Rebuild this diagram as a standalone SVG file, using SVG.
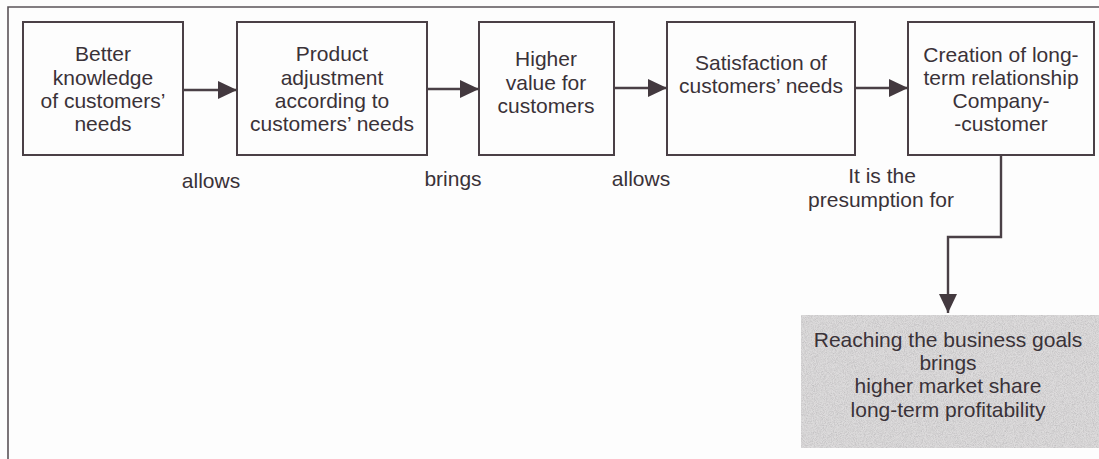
<svg xmlns="http://www.w3.org/2000/svg" width="1099" height="459" viewBox="0 0 1099 459">
  <style>
    .box { fill: none; stroke: #4a4046; stroke-width: 2; }
    .frame { fill: none; stroke: #5a5358; stroke-width: 1.6; }
    .link { fill: none; stroke: #4a4046; stroke-width: 2.4; }
    text { font-family: "Liberation Sans", Arial, sans-serif; font-size: 21px; fill: #3a3238; text-anchor: middle; }
  </style>
  <defs>
    <marker id="arrow" markerUnits="userSpaceOnUse" markerWidth="20" markerHeight="18" refX="19" refY="9" orient="auto">
      <path d="M0,0 L19,9 L0,18 Z" fill="#43393f"/>
    </marker>
    <!-- speckled halftone texture for the shaded result panel -->
    <filter id="grain" x="0" y="0" width="100%" height="100%">
      <feTurbulence type="fractalNoise" baseFrequency="1.1" numOctaves="2" seed="4" result="n"/>
      <feColorMatrix in="n" type="matrix" values="0 0 0 0 0.5  0 0 0 0 0.49  0 0 0 0 0.5  0 0 0 1.6 -0.55" result="g"/>
      <feComposite in="g" in2="SourceGraphic" operator="in" result="gc"/>
      <feMerge><feMergeNode in="SourceGraphic"/><feMergeNode in="gc"/></feMerge>
    </filter>
  </defs>

  <rect width="1099" height="459" fill="#fdfdfd"/>

  <!-- surrounding frame (open at right and bottom) -->
  <path class="frame" d="M8,459 V7 H1099"/>

  <g id="node-knowledge">
    <rect class="box" x="23" y="22" width="160" height="133"/>
    <text x="103" y="61">Better</text>
    <text x="103" y="85">knowledge</text>
    <text x="103" y="108">of customers’</text>
    <text x="103" y="131">needs</text>
  </g>

  <g id="node-adjustment">
    <rect class="box" x="237" y="22" width="190" height="133"/>
    <text x="332" y="61">Product</text>
    <text x="332" y="85">adjustment</text>
    <text x="332" y="108">according to</text>
    <text x="332" y="131">customers’ needs</text>
  </g>

  <g id="node-value">
    <rect class="box" x="479" y="22" width="135" height="133"/>
    <text x="546" y="66">Higher</text>
    <text x="546" y="90">value for</text>
    <text x="546" y="113">customers</text>
  </g>

  <g id="node-satisfaction">
    <rect class="box" x="667" y="22" width="188" height="133"/>
    <text x="761" y="70">Satisfaction of</text>
    <text x="761" y="93">customers’ needs</text>
  </g>

  <g id="node-relationship">
    <rect class="box" x="908" y="22" width="186" height="133"/>
    <text x="1001" y="62">Creation of long-</text>
    <text x="1001" y="85">term relationship</text>
    <text x="1001" y="108">Company-</text>
    <text x="1001" y="131">-customer</text>
  </g>

  <g id="node-goals">
    <rect x="801" y="315" width="298" height="133" fill="#dddbdc" filter="url(#grain)"/>
    <text x="948" y="347">Reaching the business goals</text>
    <text x="948" y="370">brings</text>
    <text x="948" y="393">higher market share</text>
    <text x="948" y="417">long-term profitability</text>
  </g>

  <g id="connectors">
    <line class="link" x1="183" y1="90" x2="237" y2="90" marker-end="url(#arrow)"/>
    <line class="link" x1="427" y1="89" x2="479" y2="89" marker-end="url(#arrow)"/>
    <line class="link" x1="614" y1="88" x2="667" y2="88" marker-end="url(#arrow)"/>
    <line class="link" x1="855" y1="88" x2="908" y2="88" marker-end="url(#arrow)"/>
    <path class="link" d="M1001,155 V237 H948 V313" marker-end="url(#arrow)"/>
    <text x="211" y="188">allows</text>
    <text x="453" y="186">brings</text>
    <text x="641" y="186">allows</text>
    <text x="882" y="183">It is the</text>
    <text x="881" y="207">presumption for</text>
  </g>
</svg>
